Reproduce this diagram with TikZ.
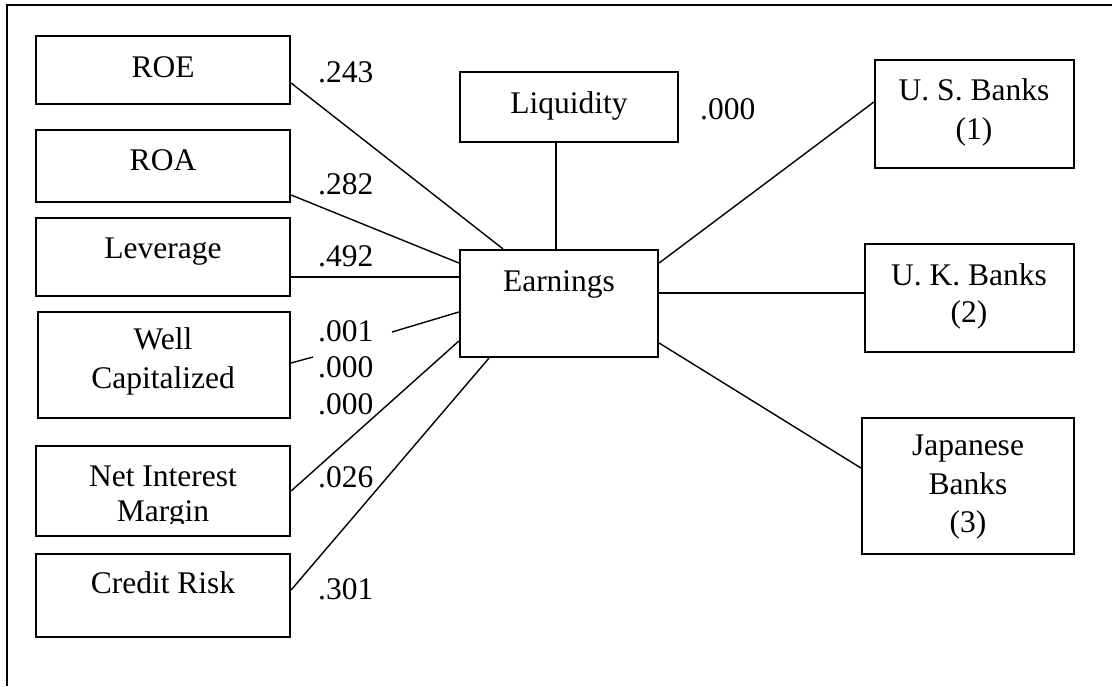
\documentclass[tikz,border=0pt]{standalone}
\usepackage{fontspec}
\setmainfont{Liberation Serif}
\begin{document}
\begin{tikzpicture}[x=1pt,y=-1pt,
  box/.style={draw, line width=2.2pt, inner sep=0pt, rectangle},
  txt/.style={inner sep=0pt, anchor=base, font=\fontsize{31.5}{38}\selectfont},
  val/.style={inner sep=0pt, anchor=base west, font=\fontsize{31.5}{38}\selectfont},
  link/.style={line width=1.4pt},
  frameline/.style={line width=1.8pt}]
\useasboundingbox (0,0) rectangle (1112,686);
% frame
\draw[frameline] (1112,5) -- (7,5) -- (7,686);
% boxes
\node[box, minimum width=254pt, minimum height=68pt] (roe) at (163,70) {};
\node[box, minimum width=254pt, minimum height=72pt] (roa) at (163,166) {};
\node[box, minimum width=254pt, minimum height=78pt] (lev) at (163,257) {};
\node[box, minimum width=252pt, minimum height=106pt] (wc) at (164,365) {};
\node[box, minimum width=254pt, minimum height=90pt] (nim) at (163,491) {};
\node[box, minimum width=254pt, minimum height=83pt] (cr) at (163,595.5) {};
\node[box, minimum width=218pt, minimum height=70pt] (liq) at (569,107) {};
\node[box, minimum width=198pt, minimum height=107pt] (earn) at (559,303.5) {};
\node[box, minimum width=199pt, minimum height=108pt] (us) at (974.5,114) {};
\node[box, minimum width=209pt, minimum height=108pt] (uk) at (969.5,298) {};
\node[box, minimum width=212pt, minimum height=136pt] (jp) at (968,486) {};
% texts
\node[txt] (roeT) at (163,77) {ROE};
\node[txt] (roaT) at (163,170) {ROA};
\node[txt] (levT) at (163,258) {Leverage};
\node[txt] (wcT1) at (163,349) {Well};
\node[txt] (wcT2) at (163,388) {Capitalized};
\node[txt] (nimT1) at (163,486) {Net Interest};
\begin{scope}
\clip (36,446) rectangle (290,523);
\node[txt] (nimT2) at (163,521) {Margin};
\end{scope}
\node[txt] (crT) at (163,593) {Credit Risk};
\node[txt] (liqT) at (569,113) {Liquidity};
\node[txt] (earnT) at (559,291) {Earnings};
\node[txt] (usT1) at (974,100) {U. S. Banks};
\node[txt] (usT2) at (974,139) {(1)};
\node[txt] (ukT1) at (969,285) {U. K. Banks};
\node[txt] (ukT2) at (969,322) {(2)};
\node[txt] (jpT1) at (968,455) {Japanese};
\node[txt] (jpT2) at (968,494) {Banks};
\node[txt] (jpT3) at (968,532) {(3)};
% values
\node[val] (v1) at (318,82) {.243};
\node[val] (v2) at (318,194) {.282};
\node[val] (v3) at (318,266) {.492};
\node[val] (v4) at (318,341) {.001};
\node[val] (v5) at (318,377) {.000};
\node[val] (v6) at (318,414) {.000};
\node[val] (v7) at (318,487) {.026};
\node[val] (v8) at (318,599) {.301};
\node[val] (v9) at (700,119) {.000};
% free ends
\coordinate (c1) at (392,332);
\coordinate (c2) at (313,357);
% connectors
\draw[link] ([yshift=-13pt]roe.east) -- ([xshift=-56pt]earn.north);
\draw[link] ([yshift=-29pt]roa.east) -- ([yshift=40.5pt]earn.west);
\draw[link] ([yshift=-20pt]lev.east) -- ([yshift=26.5pt]earn.west);
\draw[link] (c1) -- ([yshift=-8.5pt]earn.west);
\draw[link] ([yshift=2pt]wc.east) -- (c2);
\draw[link] (nim.east) -- ([yshift=-37.5pt]earn.west);
\draw[link] ([yshift=5.5pt]cr.east) -- ([xshift=-70pt]earn.south);
\draw[link] ([xshift=-13pt]liq.south) -- ([xshift=-3pt]earn.north);
\draw[link] ([yshift=40.5pt]earn.east) -- ([yshift=12pt]us.west);
\draw[link] ([yshift=10.5pt]earn.east) -- ([yshift=5pt]uk.west);
\draw[link] ([yshift=-39.5pt]earn.east) -- ([yshift=18pt]jp.west);
\end{tikzpicture}
\end{document}
